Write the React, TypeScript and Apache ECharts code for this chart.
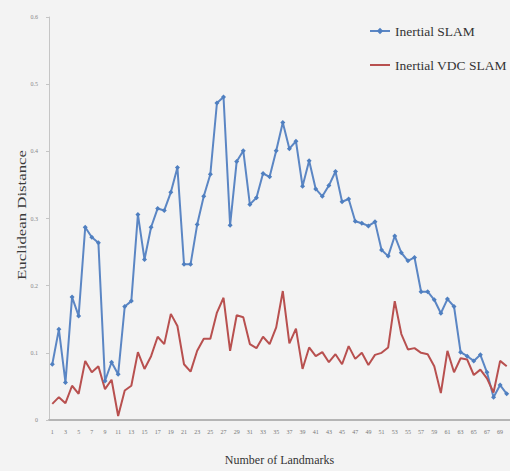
import React, { useEffect, useRef } from "react";
import * as echarts from "echarts";

const categories: string[] = Array.from({ length: 70 }, (_, i) => String(i + 1));

const inertialSlam: number[] = [
  0.083, 0.135, 0.056, 0.183, 0.155, 0.287, 0.272, 0.264, 0.058, 0.086,
  0.068, 0.169, 0.177, 0.306, 0.239, 0.287, 0.315, 0.312, 0.339, 0.376,
  0.232, 0.232, 0.291, 0.333, 0.366, 0.472, 0.481, 0.29, 0.385, 0.401,
  0.321, 0.331, 0.367, 0.362, 0.401, 0.443, 0.404, 0.415, 0.348, 0.386,
  0.344, 0.333, 0.349, 0.37, 0.325, 0.329, 0.296, 0.293, 0.289, 0.295,
  0.253, 0.244, 0.274, 0.249, 0.237, 0.242, 0.191, 0.191, 0.179, 0.159,
  0.18, 0.169, 0.101, 0.095, 0.088, 0.097, 0.071, 0.034, 0.052, 0.039,
];

const inertialVdcSlam: number[] = [
  0.024, 0.034, 0.025, 0.051, 0.039, 0.088, 0.071, 0.08, 0.046, 0.06,
  0.006, 0.044, 0.051, 0.101, 0.076, 0.095, 0.124, 0.113, 0.158, 0.14,
  0.083, 0.072, 0.103, 0.121, 0.121, 0.16, 0.182, 0.103, 0.156, 0.153,
  0.113, 0.107, 0.124, 0.113, 0.138, 0.192, 0.114, 0.136, 0.076, 0.108,
  0.095, 0.101, 0.086, 0.098, 0.083, 0.11, 0.091, 0.1, 0.082, 0.097,
  0.1, 0.108, 0.177, 0.128, 0.105, 0.107, 0.1, 0.098, 0.08, 0.04,
  0.103, 0.071, 0.092, 0.09, 0.067, 0.075, 0.062, 0.041, 0.088, 0.08,
];

const yTicks = { min: 0, max: 0.6, interval: 0.1 };
const yTitle = "Euclidean Distance";

export default function App() {
  const ref = useRef<HTMLDivElement>(null);
  useEffect(() => {
    if (!ref.current) return;
    const chart = echarts.init(ref.current, null, { renderer: "svg" });
    const serif = "'Liberation Serif', 'Times New Roman', serif";
    chart.setOption({
      animation: false,
      backgroundColor: "#f3f3f3",
      grid: { left: 49, top: 17, width: 462, bottom: 50 },
      legend: {
        orient: "vertical",
        left: 364,
        top: 19,
        itemGap: 20,
        itemWidth: 20,
        itemHeight: 8,
        textStyle: { fontFamily: serif, fontSize: 13.5, color: "#333" },
        data: [
          { name: "Inertial SLAM" },
          { name: "Inertial VDC SLAM", itemStyle: { opacity: 0 } },
        ],
      },
      graphic: [
        {
          type: "text",
          x: 22,
          y: 215,
          rotation: Math.PI / 2,
          scaleX: 1.4,
          style: {
            text: yTitle,
            font: "12px 'Liberation Serif', 'Times New Roman', serif",
            fill: "#3a3a3a",
            textAlign: "center",
            textVerticalAlign: "middle",
          },
        },
      ],
      xAxis: {
        type: "category",
        data: categories,
        boundaryGap: true,
        name: "Number of Landmarks",
        nameLocation: "middle",
        nameGap: 34,
        nameTextStyle: { fontFamily: serif, fontSize: 12, color: "#333" },
        axisLine: { lineStyle: { color: "#b5b5b5", width: 2 } },
        axisTick: { show: false },
        axisLabel: { interval: 1, fontSize: 6, color: "#777", margin: 9, fontFamily: serif },
      },
      yAxis: {
        type: "value",
        min: yTicks.min,
        max: yTicks.max,
        interval: yTicks.interval,
        splitLine: { show: false },
        axisLine: { show: true, lineStyle: { color: "#c5c5c5" } },
        axisTick: { show: true, length: 3, lineStyle: { color: "#c5c5c5" } },
        axisLabel: { fontSize: 6, color: "#888", margin: 11, fontFamily: serif },
      },
      series: [
        {
          name: "Inertial SLAM",
          type: "line",
          data: inertialSlam,
          symbol: "diamond",
          symbolSize: 5,
          showAllSymbol: true,
          itemStyle: { color: "#4f7fc0" },
          lineStyle: { color: "#5b86c4", width: 2 },
        },
        {
          name: "Inertial VDC SLAM",
          type: "line",
          data: inertialVdcSlam,
          symbol: "none",
          itemStyle: { color: "#b8504f" },
          lineStyle: { color: "#b8504f", width: 2 },
        },
      ],
    });
    return () => chart.dispose();
  }, []);
  return (
    <div
      ref={ref}
      style={{ position: "fixed", left: 0, top: 0, width: 510, height: 471 }}
    />
  );
}
